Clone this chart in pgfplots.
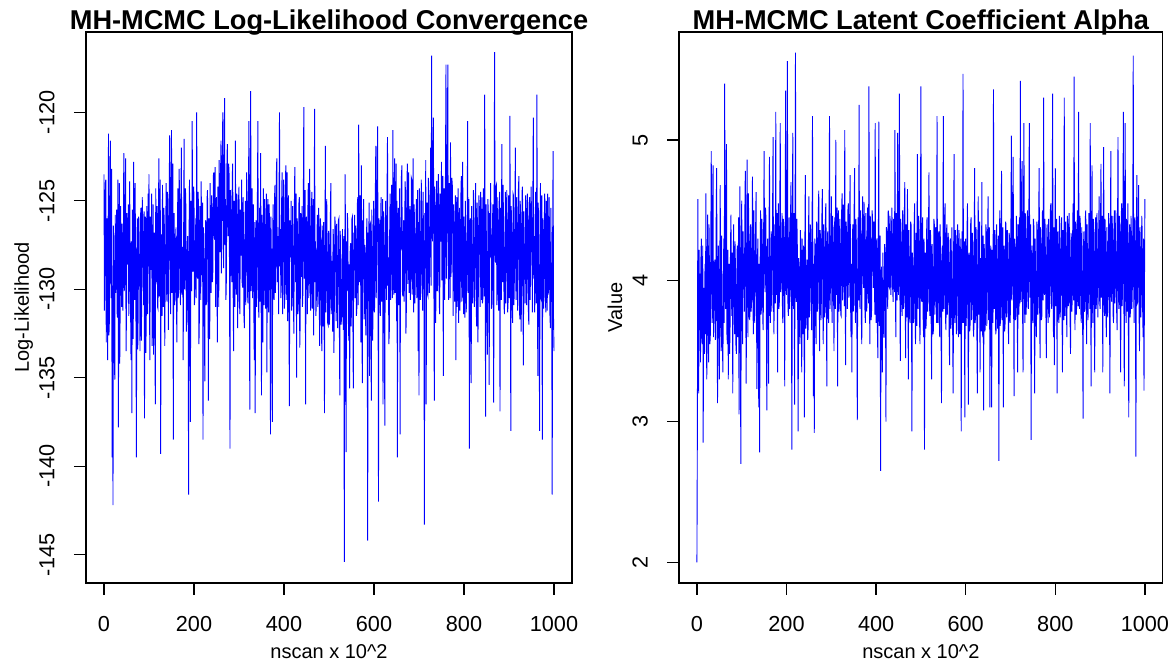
\documentclass[border=0pt]{standalone}
\usepackage{fontspec}
\setmainfont{Liberation Sans}
\usepackage{pgfplots}
\usepackage{pgfplotstable}
\pgfplotsset{compat=1.18}

% Log-likelihood trace, x = 0,1,...,1000
\pgfplotstableread[row sep=\\,header=false]{
-123.5\\ -131.2\\ -128.7\\ -124.0\\ -123.8\\ -133.0\\ -127.9\\ -126.0\\ -134.0\\ -128.2\\ -121.2\\ -132.6\\ -131.8\\ -125.6\\ -121.6\\ -129.0\\ -130.5\\ -123.2\\ -139.5\\ -129.8\\
-142.2\\ -126.4\\ -128.9\\ -133.9\\ -135.1\\ -125.8\\ -130.2\\ -129.4\\ -125.5\\ -131.3\\ -131.6\\ -123.8\\ -137.8\\ -129.4\\ -124.0\\ -134.2\\ -130.8\\ -125.3\\ -128.1\\ -131.0\\
-126.3\\ -130.6\\ -131.2\\ -127.4\\ -122.3\\ -130.1\\ -129.6\\ -124.9\\ -122.6\\ -133.5\\ -131.4\\ -125.7\\ -127.0\\ -128.6\\ -125.2\\ -131.5\\ -130.5\\ -123.9\\ -127.8\\ -130.8\\
-134.0\\ -127.3\\ -137.0\\ -125.5\\ -126.5\\ -132.8\\ -122.8\\ -129.4\\ -130.6\\ -124.0\\ -127.1\\ -131.8\\ -139.5\\ -128.2\\ -126.0\\ -133.4\\ -131.2\\ -125.9\\ -128.4\\ -128.0\\
-133.5\\ -126.0\\ -125.4\\ -132.9\\ -129.9\\ -124.8\\ -126.2\\ -128.5\\ -130.9\\ -125.6\\ -137.3\\ -127.4\\ -125.9\\ -133.6\\ -131.5\\ -125.3\\ -128.0\\ -131.4\\ -124.6\\ -128.7\\
-123.5\\ -130.8\\ -134.0\\ -125.9\\ -127.2\\ -128.9\\ -124.6\\ -133.2\\ -130.4\\ -125.2\\ -133.7\\ -129.0\\ -126.8\\ -131.7\\ -136.5\\ -124.3\\ -129.6\\ -128.3\\ -125.3\\ -131.0\\
-131.1\\ -125.7\\ -122.6\\ -130.4\\ -128.5\\ -123.8\\ -139.3\\ -126.9\\ -127.4\\ -131.5\\ -124.1\\ -128.4\\ -131.0\\ -125.4\\ -126.3\\ -133.2\\ -129.5\\ -127.9\\ -124.0\\ -130.1\\
-130.7\\ -124.5\\ -126.2\\ -132.3\\ -128.9\\ -124.1\\ -121.3\\ -128.0\\ -131.4\\ -125.0\\ -121.0\\ -130.2\\ -127.3\\ -122.9\\ -138.5\\ -126.3\\ -125.7\\ -130.9\\ -130.1\\ -127.4\\
-126.5\\ -130.7\\ -133.0\\ -127.8\\ -124.3\\ -130.5\\ -129.8\\ -123.2\\ -125.1\\ -129.9\\ -130.9\\ -124.6\\ -122.0\\ -130.3\\ -128.3\\ -127.6\\ -134.0\\ -126.8\\ -121.5\\ -130.0\\
-129.1\\ -124.3\\ -125.4\\ -132.4\\ -131.2\\ -127.5\\ -127.0\\ -130.8\\ -141.6\\ -127.2\\ -123.8\\ -130.4\\ -137.5\\ -125.0\\ -126.4\\ -130.1\\ -120.5\\ -127.7\\ -129.0\\ -124.2\\
-124.7\\ -130.9\\ -130.3\\ -127.6\\ -126.0\\ -130.5\\ -120.0\\ -128.6\\ -129.4\\ -124.5\\ -125.2\\ -133.1\\ -131.6\\ -125.3\\ -127.3\\ -130.6\\ -123.9\\ -127.8\\ -129.2\\ -125.1\\
-138.5\\ -126.5\\ -128.0\\ -131.2\\ -135.2\\ -127.4\\ -126.1\\ -130.9\\ -130.7\\ -124.9\\ -124.4\\ -128.3\\ -136.3\\ -126.0\\ -127.6\\ -132.8\\ -124.0\\ -129.6\\ -130.2\\ -124.7\\
-125.5\\ -129.6\\ -128.9\\ -123.6\\ -123.4\\ -126.8\\ -127.2\\ -123.1\\ -131.0\\ -125.3\\ -124.8\\ -129.7\\ -133.0\\ -124.2\\ -126.1\\ -131.0\\ -122.7\\ -126.0\\ -127.9\\ -123.5\\
-121.6\\ -129.1\\ -125.3\\ -122.4\\ -120.0\\ -126.9\\ -128.8\\ -122.8\\ -119.2\\ -127.5\\ -124.9\\ -130.6\\ -129.4\\ -123.2\\ -121.8\\ -126.1\\ -127.0\\ -122.9\\ -123.5\\ -129.5\\
-139.0\\ -124.4\\ -125.8\\ -127.9\\ -129.6\\ -123.7\\ -122.9\\ -130.1\\ -133.5\\ -125.0\\ -126.4\\ -131.0\\ -121.6\\ -128.9\\ -130.3\\ -124.6\\ -125.1\\ -132.2\\ -128.7\\ -124.9\\
-124.2\\ -130.7\\ -131.4\\ -125.5\\ -127.0\\ -128.1\\ -123.8\\ -129.6\\ -129.9\\ -124.8\\ -126.3\\ -131.5\\ -132.2\\ -127.8\\ -125.0\\ -130.9\\ -128.4\\ -123.4\\ -124.6\\ -130.3\\
-130.8\\ -125.0\\ -120.5\\ -129.5\\ -136.8\\ -124.6\\ -118.8\\ -130.1\\ -127.6\\ -124.3\\ -130.5\\ -127.2\\ -125.2\\ -131.3\\ -134.0\\ -126.2\\ -137.0\\ -127.4\\ -126.1\\ -131.0\\
-129.3\\ -124.5\\ -120.5\\ -130.2\\ -131.6\\ -126.9\\ -125.4\\ -130.7\\ -122.3\\ -129.0\\ -136.0\\ -125.8\\ -127.8\\ -133.0\\ -124.3\\ -128.1\\ -130.9\\ -124.9\\ -126.5\\ -131.1\\
-128.8\\ -124.6\\ -134.7\\ -126.3\\ -124.9\\ -130.8\\ -131.3\\ -125.2\\ -126.7\\ -131.0\\ -138.2\\ -125.9\\ -129.1\\ -127.7\\ -137.5\\ -126.6\\ -125.2\\ -130.4\\ -130.6\\ -124.8\\
-124.1\\ -130.2\\ -128.3\\ -123.5\\ -122.6\\ -129.6\\ -127.0\\ -127.3\\ -131.4\\ -125.1\\ -120.0\\ -128.7\\ -126.6\\ -130.5\\ -129.8\\ -124.2\\ -123.4\\ -131.4\\ -128.1\\ -123.8\\
-125.6\\ -131.1\\ -130.0\\ -124.4\\ -123.0\\ -130.6\\ -127.9\\ -123.4\\ -131.8\\ -125.8\\ -124.7\\ -131.3\\ -136.6\\ -126.1\\ -128.2\\ -128.0\\ -125.0\\ -131.2\\ -130.4\\ -125.3\\
-127.1\\ -131.0\\ -132.5\\ -125.4\\ -123.1\\ -127.8\\ -129.6\\ -124.6\\ -135.0\\ -126.0\\ -126.3\\ -131.4\\ -130.7\\ -125.2\\ -124.8\\ -133.3\\ -131.9\\ -125.7\\ -127.5\\ -129.3\\
-125.3\\ -131.0\\ -130.2\\ -124.9\\ -119.7\\ -129.4\\ -128.6\\ -124.4\\ -136.5\\ -126.3\\ -125.9\\ -128.3\\ -131.4\\ -125.6\\ -124.0\\ -130.5\\ -129.3\\ -123.2\\ -126.8\\ -131.2\\
-130.9\\ -125.3\\ -124.5\\ -131.1\\ -128.1\\ -124.9\\ -132.6\\ -126.2\\ -119.8\\ -129.6\\ -127.3\\ -131.5\\ -130.4\\ -128.2\\ -125.8\\ -131.0\\ -129.7\\ -125.4\\ -126.6\\ -133.2\\
-131.2\\ -126.0\\ -127.4\\ -131.6\\ -133.5\\ -126.4\\ -128.9\\ -132.1\\ -126.2\\ -130.8\\ -137.0\\ -127.5\\ -121.9\\ -131.3\\ -130.1\\ -124.9\\ -127.8\\ -131.9\\ -132.0\\ -126.7\\
-126.9\\ -132.0\\ -130.8\\ -126.1\\ -124.0\\ -131.4\\ -129.5\\ -128.4\\ -132.4\\ -126.6\\ -127.1\\ -133.6\\ -130.6\\ -125.9\\ -126.4\\ -129.2\\ -131.8\\ -126.3\\ -128.3\\ -132.2\\
-129.8\\ -126.1\\ -126.0\\ -131.8\\ -136.0\\ -126.7\\ -128.7\\ -132.0\\ -131.5\\ -129.1\\ -126.6\\ -131.6\\ -132.3\\ -127.0\\ -145.4\\ -129.1\\ -123.5\\ -131.2\\ -139.2\\ -127.3\\
-130.1\\ -125.7\\ -126.8\\ -131.7\\ -132.9\\ -128.6\\ -135.6\\ -127.9\\ -127.4\\ -132.1\\ -131.2\\ -126.0\\ -125.9\\ -131.5\\ -135.6\\ -126.8\\ -128.8\\ -125.8\\ -130.5\\ -126.4\\
-126.7\\ -131.5\\ -131.0\\ -125.2\\ -124.8\\ -130.9\\ -120.7\\ -128.0\\ -129.6\\ -124.7\\ -127.2\\ -133.0\\ -123.0\\ -130.4\\ -135.3\\ -126.1\\ -128.1\\ -124.9\\ -131.7\\ -127.8\\
-127.5\\ -131.4\\ -132.6\\ -128.1\\ -126.0\\ -130.7\\ -144.2\\ -126.8\\ -129.9\\ -125.1\\ -134.9\\ -126.4\\ -126.3\\ -131.6\\ -136.3\\ -125.5\\ -128.6\\ -132.9\\ -131.0\\ -125.0\\
-125.8\\ -131.3\\ -130.2\\ -124.6\\ -121.9\\ -130.5\\ -127.7\\ -124.2\\ -120.8\\ -129.2\\ -142.0\\ -126.0\\ -126.4\\ -128.7\\ -131.5\\ -125.4\\ -124.8\\ -130.7\\ -129.3\\ -124.9\\
-136.5\\ -125.6\\ -127.1\\ -131.0\\ -137.7\\ -126.2\\ -125.0\\ -128.7\\ -130.6\\ -124.5\\ -121.4\\ -129.8\\ -128.2\\ -133.1\\ -132.4\\ -125.9\\ -124.6\\ -130.6\\ -129.0\\ -124.1\\
-126.2\\ -130.5\\ -121.0\\ -129.1\\ -130.3\\ -124.0\\ -122.6\\ -130.2\\ -127.4\\ -122.9\\ -131.8\\ -125.0\\ -139.5\\ -126.7\\ -125.4\\ -130.9\\ -129.7\\ -124.3\\ -138.2\\ -126.5\\
-127.8\\ -123.6\\ -123.0\\ -130.1\\ -130.4\\ -127.2\\ -126.1\\ -130.7\\ -128.9\\ -123.9\\ -124.5\\ -132.5\\ -131.0\\ -124.8\\ -122.9\\ -129.7\\ -127.6\\ -123.4\\ -130.2\\ -127.0\\
-125.3\\ -130.6\\ -129.1\\ -123.7\\ -123.8\\ -130.3\\ -127.5\\ -122.6\\ -131.3\\ -125.2\\ -126.0\\ -130.8\\ -128.6\\ -127.4\\ -124.9\\ -130.5\\ -130.0\\ -124.4\\ -133.5\\ -126.2\\
-136.0\\ -124.3\\ -127.4\\ -130.6\\ -129.8\\ -123.8\\ -125.6\\ -128.9\\ -131.2\\ -124.5\\ -126.9\\ -130.0\\ -143.3\\ -125.7\\ -128.3\\ -122.7\\ -136.5\\ -126.4\\ -125.1\\ -130.3\\
-130.4\\ -123.7\\ -124.6\\ -130.2\\ -128.2\\ -126.8\\ -122.0\\ -129.8\\ -116.8\\ -125.9\\ -127.3\\ -123.2\\ -120.3\\ -128.9\\ -136.3\\ -124.2\\ -125.5\\ -131.9\\ -129.9\\ -123.9\\
-123.9\\ -130.1\\ -128.7\\ -123.5\\ -125.2\\ -130.8\\ -131.4\\ -124.6\\ -126.5\\ -127.3\\ -122.8\\ -129.5\\ -129.2\\ -123.6\\ -134.9\\ -125.8\\ -124.3\\ -130.6\\ -127.9\\ -122.4\\
-117.3\\ -129.4\\ -126.1\\ -123.1\\ -117.3\\ -128.6\\ -130.6\\ -124.0\\ -125.7\\ -130.5\\ -121.7\\ -129.3\\ -128.4\\ -123.7\\ -124.1\\ -127.1\\ -131.5\\ -125.2\\ -126.3\\ -130.7\\
-129.5\\ -124.7\\ -134.0\\ -126.0\\ -124.8\\ -131.0\\ -128.0\\ -124.3\\ -131.9\\ -127.6\\ -125.4\\ -131.2\\ -129.1\\ -124.8\\ -123.6\\ -130.7\\ -130.4\\ -122.8\\ -127.2\\ -131.4\\
-125.9\\ -130.9\\ -131.6\\ -125.0\\ -126.8\\ -131.3\\ -129.5\\ -128.1\\ -120.5\\ -130.2\\ -128.3\\ -124.9\\ -139.0\\ -126.4\\ -126.0\\ -131.1\\ -135.3\\ -125.3\\ -127.7\\ -130.8\\
-130.2\\ -124.4\\ -125.1\\ -131.0\\ -128.8\\ -127.5\\ -124.0\\ -130.5\\ -132.1\\ -125.1\\ -126.6\\ -133.0\\ -129.7\\ -124.7\\ -125.3\\ -128.0\\ -131.0\\ -124.5\\ -127.4\\ -130.6\\
-124.8\\ -130.8\\ -130.5\\ -124.3\\ -126.1\\ -130.4\\ -119.0\\ -127.8\\ -137.2\\ -125.2\\ -127.9\\ -131.3\\ -133.7\\ -124.9\\ -125.6\\ -130.1\\ -135.4\\ -125.7\\ -128.2\\ -124.0\\
-126.0\\ -131.1\\ -130.8\\ -127.4\\ -125.2\\ -130.7\\ -136.4\\ -125.0\\ -116.6\\ -127.9\\ -128.5\\ -124.2\\ -124.1\\ -130.9\\ -130.3\\ -124.8\\ -126.7\\ -131.2\\ -128.9\\ -124.5\\
-136.9\\ -125.8\\ -125.4\\ -130.6\\ -121.8\\ -129.3\\ -129.6\\ -124.1\\ -127.1\\ -131.0\\ -131.4\\ -127.6\\ -124.5\\ -130.8\\ -128.0\\ -124.4\\ -126.3\\ -131.3\\ -130.7\\ -124.7\\
-125.8\\ -130.5\\ -120.2\\ -128.4\\ -138.0\\ -125.3\\ -127.5\\ -131.1\\ -131.9\\ -124.6\\ -124.7\\ -130.9\\ -129.3\\ -127.9\\ -122.0\\ -129.7\\ -130.6\\ -124.8\\ -126.4\\ -131.2\\
-128.1\\ -124.3\\ -123.6\\ -130.7\\ -131.7\\ -125.0\\ -126.9\\ -132.4\\ -129.5\\ -124.5\\ -124.2\\ -130.4\\ -134.3\\ -125.6\\ -127.6\\ -128.4\\ -130.8\\ -124.7\\ -125.5\\ -130.9\\
-129.7\\ -124.6\\ -126.2\\ -131.1\\ -132.0\\ -125.3\\ -124.8\\ -130.6\\ -128.4\\ -124.2\\ -125.7\\ -127.9\\ -131.3\\ -124.9\\ -120.3\\ -129.4\\ -127.0\\ -131.3\\ -130.1\\ -124.5\\
-125.4\\ -130.8\\ -119.0\\ -128.1\\ -134.9\\ -125.1\\ -127.8\\ -131.4\\ -138.0\\ -126.3\\ -124.0\\ -130.5\\ -130.6\\ -124.7\\ -138.5\\ -126.0\\ -126.9\\ -131.1\\ -129.2\\ -124.6\\
-125.1\\ -130.7\\ -131.3\\ -125.0\\ -127.4\\ -131.2\\ -124.6\\ -130.3\\ -130.0\\ -124.8\\ -126.8\\ -131.5\\ -132.2\\ -125.4\\ -128.5\\ -131.0\\ -141.6\\ -127.0\\ -122.2\\ -131.7\\
-133.5\\
}\lldata

% Alpha trace, x = 0,1,...,1000
\pgfplotstableread[row sep=\\,header=false]{
2.00\\ 2.95\\ 4.58\\ 3.70\\ 3.20\\ 4.22\\ 3.65\\ 4.05\\ 3.42\\ 4.18\\ 4.30\\ 3.60\\ 3.55\\ 4.25\\ 2.85\\ 3.80\\ 3.95\\ 3.48\\ 4.12\\ 3.62\\
4.62\\ 3.75\\ 3.30\\ 4.02\\ 4.47\\ 3.65\\ 3.42\\ 4.40\\ 4.05\\ 3.55\\ 3.62\\ 4.30\\ 4.92\\ 3.92\\ 3.70\\ 4.55\\ 4.82\\ 3.60\\ 3.88\\ 4.10\\
4.15\\ 3.58\\ 3.60\\ 4.44\\ 4.80\\ 3.92\\ 3.13\\ 4.10\\ 4.25\\ 3.65\\ 3.30\\ 4.02\\ 4.68\\ 3.78\\ 3.50\\ 4.32\\ 3.85\\ 3.52\\ 3.35\\ 3.98\\
4.30\\ 3.70\\ 5.40\\ 3.95\\ 3.80\\ 4.52\\ 4.97\\ 3.62\\ 3.55\\ 4.22\\ 3.30\\ 4.05\\ 4.12\\ 3.48\\ 3.68\\ 4.26\\ 4.47\\ 3.88\\ 3.75\\ 4.20\\
3.20\\ 4.15\\ 4.40\\ 3.92\\ 3.62\\ 4.28\\ 4.10\\ 3.55\\ 3.48\\ 4.00\\ 4.25\\ 3.60\\ 3.85\\ 4.45\\ 3.05\\ 3.92\\ 4.67\\ 3.64\\ 2.70\\ 4.02\\
4.57\\ 3.80\\ 3.55\\ 4.35\\ 4.05\\ 4.12\\ 3.78\\ 4.48\\ 4.78\\ 3.85\\ 3.27\\ 4.10\\ 4.86\\ 3.92\\ 3.60\\ 4.62\\ 4.20\\ 3.75\\ 3.72\\ 4.38\\
4.40\\ 3.78\\ 3.85\\ 4.15\\ 4.74\\ 3.88\\ 3.62\\ 4.50\\ 4.18\\ 3.70\\ 3.95\\ 4.36\\ 4.63\\ 3.82\\ 3.23\\ 4.08\\ 4.30\\ 3.74\\ 3.10\\ 4.12\\
2.78\\ 4.06\\ 4.50\\ 3.76\\ 3.80\\ 4.44\\ 4.25\\ 3.72\\ 3.65\\ 4.38\\ 4.92\\ 4.10\\ 3.92\\ 4.52\\ 4.45\\ 3.80\\ 3.08\\ 4.20\\ 4.30\\ 3.70\\
3.27\\ 4.34\\ 4.88\\ 3.82\\ 3.70\\ 4.12\\ 4.35\\ 3.78\\ 3.95\\ 4.55\\ 5.02\\ 3.88\\ 3.62\\ 4.18\\ 4.40\\ 3.84\\ 5.20\\ 4.10\\ 3.90\\ 4.48\\
3.35\\ 4.42\\ 4.55\\ 3.80\\ 3.85\\ 4.50\\ 5.12\\ 3.92\\ 4.00\\ 4.15\\ 4.48\\ 3.76\\ 3.70\\ 4.44\\ 4.30\\ 4.05\\ 3.25\\ 4.36\\ 5.35\\ 3.94\\
3.90\\ 4.52\\ 5.56\\ 3.86\\ 3.75\\ 4.20\\ 4.45\\ 3.80\\ 3.95\\ 4.46\\ 4.70\\ 3.90\\ 2.80\\ 4.30\\ 5.05\\ 3.84\\ 3.80\\ 4.48\\ 3.12\\ 4.22\\
5.62\\ 3.92\\ 3.85\\ 4.44\\ 4.30\\ 3.70\\ 2.93\\ 4.16\\ 4.10\\ 3.64\\ 3.55\\ 4.36\\ 4.20\\ 3.72\\ 3.35\\ 4.30\\ 3.95\\ 3.62\\ 4.25\\ 3.80\\
3.03\\ 4.28\\ 4.75\\ 3.66\\ 3.70\\ 4.05\\ 4.15\\ 3.58\\ 3.60\\ 4.32\\ 4.60\\ 3.74\\ 3.85\\ 4.40\\ 4.35\\ 3.98\\ 3.65\\ 4.26\\ 5.17\\ 3.84\\
3.18\\ 4.12\\ 2.92\\ 4.30\\ 4.25\\ 3.70\\ 3.55\\ 4.42\\ 4.40\\ 3.78\\ 3.85\\ 4.48\\ 4.64\\ 3.96\\ 3.50\\ 4.36\\ 4.30\\ 3.72\\ 3.90\\ 4.46\\
4.65\\ 3.82\\ 3.55\\ 4.40\\ 4.20\\ 3.74\\ 3.80\\ 4.50\\ 4.55\\ 3.86\\ 3.25\\ 4.24\\ 4.35\\ 3.78\\ 3.70\\ 4.44\\ 5.17\\ 3.80\\ 3.95\\ 4.12\\
4.60\\ 3.84\\ 3.70\\ 4.46\\ 4.25\\ 3.98\\ 3.50\\ 4.38\\ 4.45\\ 3.80\\ 5.00\\ 3.92\\ 3.90\\ 4.52\\ 3.25\\ 4.20\\ 4.50\\ 3.78\\ 3.85\\ 4.44\\
4.30\\ 3.76\\ 3.75\\ 4.48\\ 4.62\\ 3.86\\ 3.95\\ 4.54\\ 4.40\\ 3.82\\ 5.07\\ 3.90\\ 3.40\\ 4.42\\ 4.35\\ 4.10\\ 3.80\\ 4.50\\ 4.55\\ 3.88\\
3.90\\ 4.46\\ 4.75\\ 3.84\\ 3.60\\ 4.12\\ 3.35\\ 4.28\\ 4.40\\ 3.78\\ 3.85\\ 4.52\\ 4.80\\ 3.88\\ 3.70\\ 4.44\\ 4.25\\ 3.76\\ 3.01\\ 4.18\\
4.45\\ 3.86\\ 5.25\\ 3.96\\ 3.80\\ 4.50\\ 4.30\\ 3.74\\ 3.55\\ 4.40\\ 4.60\\ 4.05\\ 3.95\\ 4.56\\ 4.40\\ 3.80\\ 3.70\\ 4.48\\ 4.25\\ 3.78\\
3.90\\ 4.52\\ 4.50\\ 3.84\\ 5.38\\ 4.02\\ 3.55\\ 4.46\\ 4.20\\ 3.72\\ 3.80\\ 4.50\\ 4.45\\ 4.12\\ 3.95\\ 4.42\\ 4.35\\ 3.76\\ 5.12\\ 3.86\\
3.70\\ 4.28\\ 4.30\\ 3.62\\ 3.45\\ 4.24\\ 5.13\\ 3.68\\ 3.90\\ 4.32\\ 2.65\\ 3.84\\ 4.10\\ 3.56\\ 3.35\\ 4.20\\ 4.00\\ 3.60\\ 3.60\\ 4.26\\
4.20\\ 3.88\\ 3.00\\ 4.38\\ 4.35\\ 3.92\\ 3.80\\ 4.50\\ 4.47\\ 3.96\\ 3.95\\ 4.46\\ 4.30\\ 3.90\\ 4.05\\ 4.52\\ 4.40\\ 3.94\\ 3.85\\ 4.44\\
4.25\\ 3.92\\ 5.07\\ 4.00\\ 3.60\\ 4.48\\ 4.35\\ 3.86\\ 5.05\\ 4.06\\ 3.90\\ 4.54\\ 5.33\\ 3.98\\ 3.43\\ 4.44\\ 4.20\\ 3.84\\ 3.75\\ 4.50\\
4.45\\ 3.80\\ 3.85\\ 4.46\\ 4.70\\ 3.84\\ 3.45\\ 4.40\\ 4.30\\ 3.74\\ 4.65\\ 3.90\\ 3.30\\ 4.36\\ 4.15\\ 3.72\\ 3.70\\ 4.42\\ 4.40\\ 3.82\\
2.93\\ 4.20\\ 4.10\\ 3.70\\ 3.75\\ 4.40\\ 4.55\\ 3.76\\ 3.55\\ 4.34\\ 4.25\\ 3.68\\ 4.90\\ 3.86\\ 3.80\\ 4.46\\ 4.35\\ 3.72\\ 3.55\\ 4.30\\
5.38\\ 3.88\\ 3.85\\ 4.38\\ 4.45\\ 3.74\\ 3.60\\ 4.30\\ 2.80\\ 3.96\\ 4.20\\ 3.66\\ 3.70\\ 4.42\\ 4.45\\ 3.78\\ 3.95\\ 4.36\\ 4.77\\ 3.84\\
3.75\\ 4.36\\ 4.30\\ 3.68\\ 3.30\\ 4.26\\ 4.10\\ 3.62\\ 3.65\\ 4.44\\ 4.40\\ 3.76\\ 3.85\\ 4.38\\ 4.20\\ 3.70\\ 5.17\\ 3.94\\ 3.70\\ 4.32\\
4.35\\ 3.74\\ 3.60\\ 4.40\\ 4.10\\ 3.66\\ 3.13\\ 4.22\\ 4.25\\ 3.78\\ 5.17\\ 3.88\\ 3.80\\ 4.46\\ 4.55\\ 3.72\\ 3.65\\ 4.34\\ 4.40\\ 3.76\\
3.90\\ 4.34\\ 4.15\\ 3.64\\ 3.40\\ 4.28\\ 4.30\\ 3.66\\ 3.75\\ 4.38\\ 4.05\\ 3.60\\ 3.20\\ 4.12\\ 4.90\\ 3.76\\ 3.70\\ 4.36\\ 4.25\\ 3.62\\
3.85\\ 4.32\\ 4.40\\ 3.66\\ 3.60\\ 4.36\\ 4.20\\ 3.62\\ 3.95\\ 4.30\\ 2.93\\ 3.92\\ 4.35\\ 3.70\\ 5.47\\ 3.96\\ 3.70\\ 4.28\\ 3.03\\ 4.06\\
4.30\\ 3.68\\ 3.85\\ 4.36\\ 4.55\\ 3.74\\ 3.12\\ 4.18\\ 4.20\\ 3.64\\ 3.70\\ 4.40\\ 4.45\\ 3.72\\ 3.90\\ 4.34\\ 4.15\\ 3.66\\ 3.60\\ 4.30\\
4.80\\ 3.70\\ 3.75\\ 4.38\\ 4.25\\ 3.62\\ 3.20\\ 4.24\\ 4.60\\ 3.76\\ 3.85\\ 4.42\\ 3.35\\ 4.16\\ 4.10\\ 3.64\\ 4.70\\ 3.80\\ 3.60\\ 4.32\\
3.08\\ 4.26\\ 4.20\\ 3.64\\ 3.70\\ 4.40\\ 4.35\\ 3.68\\ 3.85\\ 4.34\\ 4.60\\ 3.72\\ 3.95\\ 4.38\\ 3.10\\ 4.14\\ 4.25\\ 3.66\\ 3.10\\ 4.22\\
4.10\\ 3.70\\ 5.36\\ 3.90\\ 3.80\\ 4.36\\ 4.30\\ 3.62\\ 3.65\\ 4.40\\ 4.15\\ 3.66\\ 3.90\\ 4.32\\ 2.72\\ 3.96\\ 4.50\\ 3.68\\ 3.75\\ 4.34\\
4.78\\ 3.72\\ 3.85\\ 4.38\\ 3.10\\ 4.20\\ 4.25\\ 3.64\\ 3.70\\ 4.42\\ 4.40\\ 3.74\\ 3.90\\ 4.36\\ 4.15\\ 3.68\\ 3.55\\ 4.34\\ 4.30\\ 3.70\\
3.80\\ 4.44\\ 5.03\\ 3.86\\ 3.95\\ 4.50\\ 4.88\\ 3.82\\ 3.18\\ 4.30\\ 4.20\\ 3.72\\ 3.75\\ 4.46\\ 4.35\\ 3.78\\ 3.35\\ 4.40\\ 4.10\\ 3.76\\
4.45\\ 3.84\\ 5.42\\ 3.98\\ 3.85\\ 4.52\\ 4.85\\ 3.80\\ 3.35\\ 4.42\\ 5.12\\ 3.90\\ 3.70\\ 4.48\\ 4.30\\ 3.76\\ 3.95\\ 4.44\\ 4.50\\ 3.82\\
3.80\\ 4.46\\ 5.12\\ 3.88\\ 4.10\\ 4.40\\ 2.87\\ 3.96\\ 4.25\\ 3.74\\ 3.70\\ 4.44\\ 4.40\\ 3.78\\ 3.20\\ 4.30\\ 4.05\\ 3.72\\ 3.60\\ 4.42\\
4.35\\ 3.76\\ 3.85\\ 4.46\\ 4.80\\ 3.84\\ 3.45\\ 4.38\\ 4.20\\ 3.72\\ 3.75\\ 4.48\\ 4.50\\ 3.86\\ 5.30\\ 3.94\\ 3.90\\ 4.44\\ 4.15\\ 3.78\\
3.45\\ 4.36\\ 4.40\\ 3.80\\ 3.70\\ 4.44\\ 4.25\\ 3.74\\ 3.95\\ 4.50\\ 4.55\\ 3.86\\ 3.80\\ 4.42\\ 5.33\\ 3.92\\ 3.60\\ 4.38\\ 3.40\\ 4.24\\
4.80\\ 3.82\\ 3.85\\ 4.44\\ 3.20\\ 4.28\\ 4.35\\ 3.76\\ 3.70\\ 4.46\\ 4.15\\ 3.74\\ 3.95\\ 4.40\\ 4.45\\ 3.80\\ 3.35\\ 4.36\\ 4.05\\ 3.72\\
5.30\\ 3.92\\ 3.75\\ 4.42\\ 4.25\\ 3.76\\ 3.60\\ 4.46\\ 4.40\\ 3.82\\ 3.85\\ 4.48\\ 4.10\\ 3.74\\ 3.48\\ 4.34\\ 4.30\\ 3.78\\ 3.90\\ 4.44\\
4.55\\ 3.86\\ 5.45\\ 4.00\\ 3.65\\ 4.42\\ 4.35\\ 3.76\\ 3.85\\ 4.50\\ 4.25\\ 3.82\\ 5.20\\ 3.96\\ 3.80\\ 4.46\\ 4.40\\ 3.78\\ 3.70\\ 4.38\\
4.20\\ 3.74\\ 3.02\\ 4.26\\ 4.35\\ 3.78\\ 3.80\\ 4.44\\ 4.50\\ 3.84\\ 3.55\\ 4.40\\ 4.10\\ 3.72\\ 3.90\\ 4.48\\ 4.30\\ 3.80\\ 5.12\\ 3.96\\
3.25\\ 4.38\\ 4.82\\ 3.84\\ 3.70\\ 4.44\\ 4.20\\ 3.76\\ 3.35\\ 4.36\\ 4.45\\ 3.80\\ 3.85\\ 4.48\\ 4.15\\ 3.74\\ 3.95\\ 4.42\\ 4.60\\ 3.86\\
3.80\\ 4.40\\ 4.83\\ 3.88\\ 4.05\\ 4.46\\ 3.35\\ 4.30\\ 4.95\\ 3.84\\ 3.75\\ 4.44\\ 4.30\\ 3.78\\ 3.60\\ 4.38\\ 4.20\\ 3.74\\ 3.90\\ 4.48\\
4.40\\ 3.82\\ 3.20\\ 4.34\\ 4.92\\ 3.90\\ 3.85\\ 4.46\\ 4.25\\ 3.76\\ 3.70\\ 4.42\\ 4.50\\ 3.84\\ 3.95\\ 4.50\\ 4.15\\ 3.78\\ 3.65\\ 4.40\\
5.02\\ 3.90\\ 3.80\\ 4.46\\ 4.35\\ 3.76\\ 3.35\\ 4.38\\ 4.55\\ 3.82\\ 3.90\\ 4.50\\ 5.20\\ 3.94\\ 3.25\\ 4.32\\ 5.12\\ 3.88\\ 3.70\\ 4.44\\
4.25\\ 3.78\\ 4.55\\ 3.86\\ 3.03\\ 4.28\\ 4.40\\ 3.74\\ 3.80\\ 4.46\\ 4.30\\ 3.80\\ 3.95\\ 4.42\\ 5.60\\ 3.96\\ 3.70\\ 4.40\\ 4.45\\ 3.82\\
2.75\\ 4.20\\ 4.75\\ 3.84\\ 3.85\\ 4.44\\ 4.68\\ 3.78\\ 3.50\\ 4.38\\ 4.20\\ 3.74\\ 3.90\\ 4.46\\ 4.35\\ 3.80\\ 3.60\\ 4.30\\ 3.22\\ 3.90\\
4.58\\
}\alphadata

\pgfplotsset{
  rstyle/.style={
    scale only axis, anchor=south west,
    axis line style={line width=0.65pt, black},
    every tick/.style={line width=0.65pt, black},
    tick align=outside, major tick length=6pt,
    xtick pos=bottom, ytick pos=left,
    xmin=-40, xmax=1040,
    xtick={0,200,400,600,800,1000},
    xticklabels={0,200,400,600,800,1000},
    ticklabel style={font=\fontsize{10.85}{13}\selectfont},
    xticklabel style={anchor=base, yshift=-18.5pt},
    yticklabel style={rotate=90, anchor=base, yshift=9.75pt},
    every axis title/.style={at={(axis description cs:0.5,1)}, anchor=base, yshift=1.2pt,
      font=\fontsize{13.6}{16}\selectfont\bfseries},
    label style={font=\fontsize{10.85}{13}\selectfont},
    xlabel={nscan x 10\textasciicircum 2},
    every axis x label/.style={at={(axis description cs:0.5,0)}, anchor=base, yshift=-38pt},
    every axis y label/.style={at={(axis description cs:0,0.5)}, rotate=90, anchor=base, yshift=28.5pt},
    clip=true,
  },
  rline/.style={color={rgb,255:red,0;green,0;blue,255}, line width=0.45pt, mark=none},
}

\begin{document}
\begin{tikzpicture}
\useasboundingbox (0,0) rectangle (586.5pt,334.5pt);
\begin{axis}[rstyle, at={(43pt,43pt)}, width=243pt, height=275.5pt,
  ymin=-146.6, ymax=-115.46,
  ytick={-145,-140,-135,-130,-125,-120},
  yticklabels={-145,-140,-135,-130,-125,-120},
  title={MH-MCMC Log-Likelihood Convergence},
  ylabel={Log-Likelihood}]
\addplot[rline] table[x expr=\coordindex, y index=0] {\lldata};
\end{axis}
\begin{axis}[rstyle, at={(339.5pt,43pt)}, width=241.9pt, height=275.5pt,
  ymin=1.853, ymax=5.767,
  ytick={2,3,4,5},
  yticklabels={2,3,4,5},
  title={MH-MCMC Latent Coefficient Alpha},
  ylabel={Value}]
\addplot[rline] table[x expr=\coordindex, y index=0] {\alphadata};
\end{axis}
\end{tikzpicture}
\end{document}
